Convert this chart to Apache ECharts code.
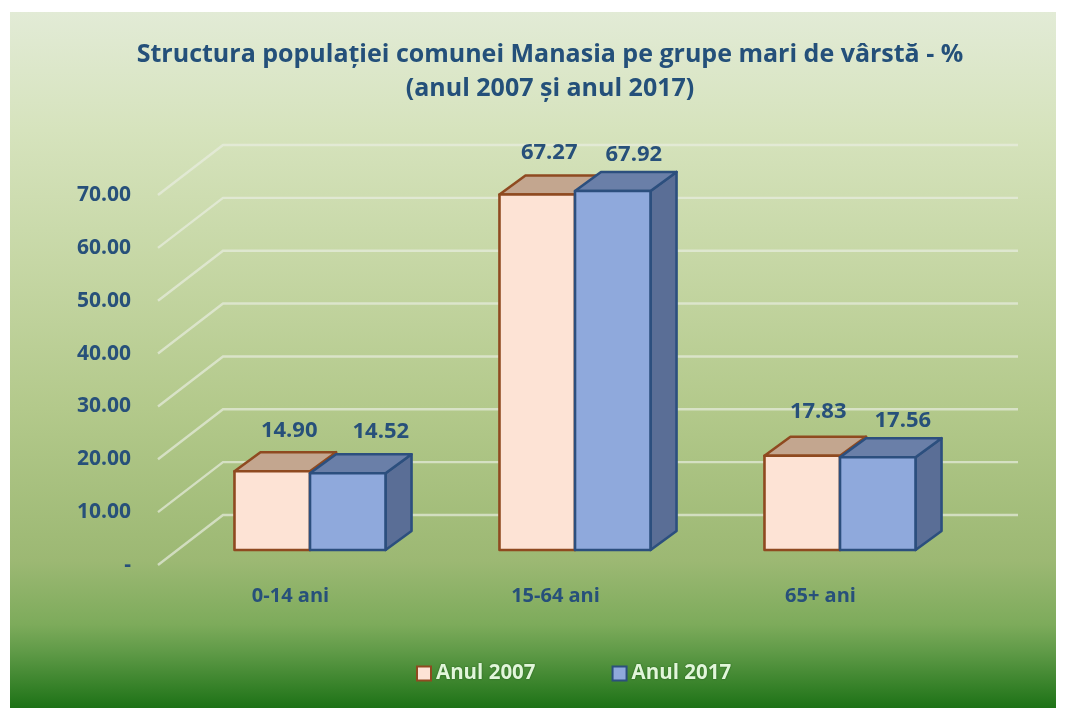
<!DOCTYPE html>
<html><head><meta charset="utf-8">
<style>html,body{margin:0;padding:0;background:#fff}#c{width:1067px;height:711px}</style>
<script src="https://cdn.jsdelivr.net/npm/echarts@6/dist/echarts.min.js"></script>
</head><body><div id="c"></div>
<script>
const titleText = 'Structura populației comunei Manasia pe grupe mari de vârstă - %\n(anul 2007 și anul 2017)';
const categories = ['0-14 ani', '15-64 ani', '65+ ani'];
const seriesNames = ['Anul 2007', 'Anul 2017'];
const values2007 = [14.90, 67.27, 17.83];
const values2017 = [14.52, 67.92, 17.56];
const yTicks = [0, 10, 20, 30, 40, 50, 60, 70];

// Styling and layout of the pseudo-3D look
const FONT = '"Open Sans", sans-serif';
const INK = '#27507a';
const WALL = { dx: 65, dy: -50 };
const BAR_OFFSET = { dx: 19.5, dy: -15 };
const BAR_DEPTH = { dx: 26, dy: -19 };
const BAR_W_RATIO = 0.285;
const styles2007 = { front: '#fde3d5', top: '#c3a68f', side: '#c3a68f', edge: '#8f4a20' };
const styles2017 = { front: '#8fa9dc', top: '#6a7fa8', side: '#5a6e96', edge: '#2c4f7e' };
const labelShift2007 = [[17, -41], [12, -42], [16, -44]];
const labelShift2017 = [[33, -42], [21, -36], [25, -36]];

function gridLines(params, api) {
  const cs = params.coordSys;
  const y = api.coord([0, api.value(1)])[1];
  return {
    type: 'polyline',
    shape: { points: [[cs.x, y], [cs.x + WALL.dx, y + WALL.dy], [cs.x + cs.width + WALL.dx, y + WALL.dy]] },
    style: { fill: null, stroke: 'rgba(233,238,226,0.68)', lineWidth: 2.4 }
  };
}

function poly(points, fill, edge) {
  return { type: 'polygon', shape: { points }, style: { fill, stroke: edge, lineWidth: 2.6, lineJoin: 'round' } };
}

function barRenderer(st, side, shifts) {
  return function (params, api) {
    const idx = api.value(0), val = api.value(1);
    const w = api.size([1, 0])[0] * BAR_W_RATIO;
    const centre = api.coord([idx, 0]);
    const topPt = api.coord([idx, val]);
    const x0 = centre[0] + BAR_OFFSET.dx + side * w, x1 = x0 + w;
    const yb = centre[1] + BAR_OFFSET.dy, yt = topPt[1] + BAR_OFFSET.dy;
    const d = BAR_DEPTH;
    const sh = shifts[idx];
    return {
      type: 'group',
      children: [
        poly([[x1, yt], [x1 + d.dx, yt + d.dy], [x1 + d.dx, yb + d.dy], [x1, yb]], st.side, st.edge),
        poly([[x0, yt], [x0 + d.dx, yt + d.dy], [x1 + d.dx, yt + d.dy], [x1, yt]], st.top, st.edge),
        poly([[x0, yt], [x1, yt], [x1, yb], [x0, yb]], st.front, st.edge),
        { type: 'text', z2: 50, style: {
            x: (x0 + x1) / 2 + sh[0], y: yt + sh[1], text: val.toFixed(2),
            align: 'center', verticalAlign: 'middle', fill: INK,
            font: 'bold 22px ' + FONT } }
      ]
    };
  };
}

const chart = echarts.init(document.getElementById('c'), null, { renderer: 'canvas' });
chart.setOption({
  animation: false,
  title: {
    text: titleText, left: 545, top: 33, textAlign: 'center',
    textStyle: { fontFamily: FONT, fontWeight: 'bold', fontSize: 25, lineHeight: 34, color: '#24507a' }
  },
  graphic: [{
    type: 'rect', z: -10, silent: true,
    shape: { x: 10, y: 12, width: 1046, height: 696 },
    style: { fill: new echarts.graphic.LinearGradient(0, 0, 0, 1, [
      { offset: 0, color: '#e2ebd6' },
      { offset: 0.17, color: '#d6e3bd' },
      { offset: 0.36, color: '#c6d7a5' },
      { offset: 0.57, color: '#b3c98b' },
      { offset: 0.79, color: '#9cb873' },
      { offset: 0.88, color: '#7dab5b' },
      { offset: 0.92, color: '#5f9a47' },
      { offset: 1, color: '#1d7216' }
    ]) }
  }],
  legend: {
    left: 411, top: 658, itemWidth: 14, itemHeight: 14, itemGap: 76, icon: 'rect',
    data: seriesNames,
    textStyle: { fontFamily: FONT, fontWeight: 'bold', fontSize: 20.5, color: '#e2f6da',
      textShadowColor: 'rgba(0,50,0,0.6)', textShadowBlur: 2 }
  },
  grid: { left: 158, right: 114, top: 195, height: 370, containLabel: false },
  xAxis: {
    type: 'category', data: categories,
    axisLine: { show: false }, axisTick: { show: false },
    axisLabel: { margin: 21, fontFamily: FONT, fontWeight: 'bold', fontSize: 20, color: INK }
  },
  yAxis: {
    type: 'value', min: 0, max: 70, interval: 10,
    axisLine: { show: false }, axisTick: { show: false }, splitLine: { show: false },
    axisLabel: { margin: 27, fontFamily: FONT, fontWeight: 'bold', fontSize: 21, color: INK,
      formatter: v => v === 0 ? '-' : v.toFixed(2) }
  },
  series: [
    { type: 'custom', silent: true, clip: false, z: 1, renderItem: gridLines,
      data: yTicks.map(v => [0, v]) },
    { type: 'custom', name: seriesNames[0], clip: false, z: 2,
      itemStyle: { color: styles2007.front, borderColor: styles2007.edge, borderWidth: 2.5 },
      renderItem: barRenderer(styles2007, -1, labelShift2007),
      data: values2007.map((v, i) => [i, v]) },
    { type: 'custom', name: seriesNames[1], clip: false, z: 3,
      itemStyle: { color: styles2017.front, borderColor: styles2017.edge, borderWidth: 2.5 },
      renderItem: barRenderer(styles2017, 0, labelShift2017),
      data: values2017.map((v, i) => [i, v]) }
  ]
});
</script></body></html>
